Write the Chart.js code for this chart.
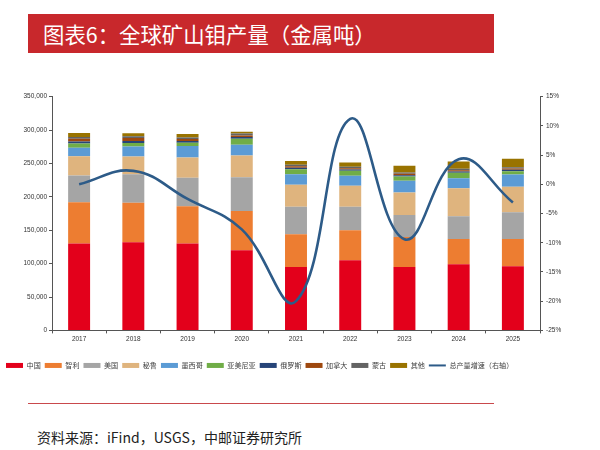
<!DOCTYPE html>
<html><head><meta charset="utf-8">
<script src="https://cdn.jsdelivr.net/npm/chart.js@4/dist/chart.umd.min.js"></script>
<style>
html,body{margin:0;padding:0;background:#fff;width:600px;height:450px;overflow:hidden;font-family:"Noto Sans CJK SC","Noto Sans",sans-serif;}
#title{position:absolute;left:28px;top:14px;width:466px;height:39px;background:#c8282c;color:#fff;font-size:21.4px;line-height:39px;padding-left:15px;box-sizing:border-box;white-space:nowrap;}
#wrap{position:absolute;left:0;top:80px;width:600px;height:300px;}
#rule{position:absolute;left:28px;top:403px;width:466px;height:1px;background:#c9494c;}
#src{position:absolute;left:37px;top:426px;font-size:14px;color:#222;white-space:nowrap;line-height:22px;}
</style></head>
<body>
<div id="title">图表6：全球矿山钼产量（金属吨）</div>
<div id="wrap"><canvas id="c" width="600" height="300"></canvas></div>
<div id="rule"></div>
<div id="src">资料来源：iFind，USGS，中邮证券研究所</div>
<script>
const categories = ['2017','2018','2019','2020','2021','2022','2023','2024','2025'];
const china    = [130000,132000,130000,120000,95000,105000,95000,99000,96000];
const chile    = [62000,59000,56000,59000,49000,45000,45000,38000,41000];
const usa      = [40000,43000,42500,50500,41000,35000,33000,34000,40000];
const peru     = [29000,26500,30500,32500,33000,31500,33500,42000,38000];
const mexico   = [12500,15000,17000,16000,16000,15000,17500,15000,18500];
const armenia  = [6500,5200,5000,9000,7500,7500,6500,8000,5000];
const russia   = [3000,3000,2500,2500,2000,2000,2000,2000,2000];
const canada   = [4000,4500,3000,2500,2500,2000,2000,2000,2000];
const mongolia = [2500,2500,2500,3000,2000,2000,2000,2000,2000];
const other    = [6000,4500,5000,2500,5800,6500,10000,11000,12500];
const growth   = [0,2.3,-2.5,-7.7,-20,11.2,-9.4,4.3,-3.1];
const leftTicks = {min:0,max:350000,step:50000};
const rightTicks = {min:-25,max:15,step:5};

const barSeries = [
  ['中国',china,'#e3001b'],
  ['智利',chile,'#ed7d31'],
  ['美国',usa,'#a5a5a5'],
  ['秘鲁',peru,'#dfb47e'],
  ['墨西哥',mexico,'#5b9bd5'],
  ['亚美尼亚',armenia,'#70ad47'],
  ['俄罗斯',russia,'#264478'],
  ['加拿大',canada,'#9e480e'],
  ['蒙古',mongolia,'#636363'],
  ['其他',other,'#997300']
];
const datasets = barSeries.map(([n,d,c]) => ({
  type:'bar', label:n, data:d, backgroundColor:c, borderWidth:0,
  stack:'s', yAxisID:'y', order:1, categoryPercentage:1, barPercentage:0.405
}));
datasets.push({
  type:'line', label:'总产量增速（右轴）', data:growth, yAxisID:'y1',
  borderColor:'#2d5b88', backgroundColor:'#2d5b88', borderWidth:2.6,
  pointRadius:0, tension:0.42, order:0, fill:false
});

const tickFont = {family:'"Liberation Sans", Arial, sans-serif', size:6.5};
new Chart(document.getElementById('c'), {
  data:{labels:categories, datasets},
  options:{
    responsive:false, animation:false,
    layout:{padding:{top:16.7,left:2,right:0,bottom:1}},
    plugins:{
      tooltip:{enabled:false},
      legend:{
        position:'bottom', align:'start',
        labels:{
          usePointStyle:true, pointStyleWidth:17, boxHeight:5, padding:4,
          color:'#404040',
          font:{family:'"Noto Sans CJK SC", sans-serif', size:7.1},
          sort:(a,b)=>a.datasetIndex-b.datasetIndex,
          generateLabels:(chart)=>{
            const items = Chart.defaults.plugins.legend.labels.generateLabels(chart);
            items.forEach(it=>{
              const ds = chart.data.datasets[it.datasetIndex];
              it.pointStyle = ds.type==='line' ? 'line' : 'rect';
              if (ds.type==='line') { it.lineWidth = 2; it.strokeStyle = ds.borderColor; }
              else { it.lineWidth = 0; }
            });
            return items;
          }
        }
      }
    },
    scales:{
      x:{
        stacked:true,
        grid:{offset:true, drawOnChartArea:false, drawTicks:true, tickLength:3, color:'#555', tickWidth:1},
        border:{color:'#555', width:1},
        ticks:{color:'#333', font:tickFont, padding:2, maxRotation:0},
        afterFit:(s)=>{s.height=27.5;}
      },
      y:{
        stacked:true, position:'left', min:leftTicks.min, max:leftTicks.max,
        grid:{drawOnChartArea:false, drawTicks:true, tickLength:3, color:'#555'},
        border:{color:'#555', width:1},
        ticks:{stepSize:leftTicks.step, color:'#333', font:tickFont, padding:2,
          callback:(v)=>v.toLocaleString('en-US')},
        afterFit:(s)=>{s.width=50;}
      },
      y1:{
        position:'right', min:rightTicks.min, max:rightTicks.max,
        grid:{drawOnChartArea:false, drawTicks:true, tickLength:3, color:'#555'},
        border:{color:'#555', width:1},
        ticks:{stepSize:rightTicks.step, color:'#333', font:tickFont, padding:3,
          callback:(v)=>v+'%'},
        afterFit:(s)=>{s.width=60;}
      }
    }
  }
});
</script>
</body></html>
